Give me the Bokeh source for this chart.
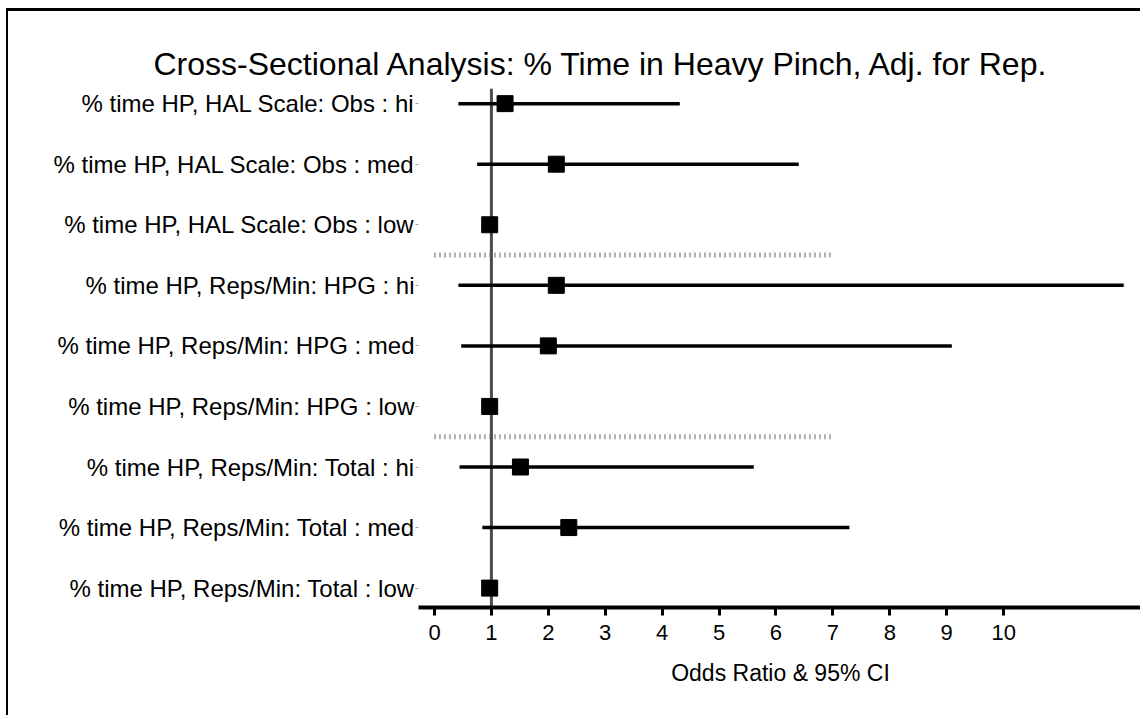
from bokeh.plotting import figure
from bokeh.models import Range1d, FixedTicker, Span, ColumnDataSource, Title
from bokeh.embed import file_html
from bokeh.resources import INLINE

# ---- data (top row first) ----
row_labels = [
    "% time HP, HAL Scale: Obs : hi",
    "% time HP, HAL Scale: Obs : med",
    "% time HP, HAL Scale: Obs : low",
    "% time HP, Reps/Min: HPG : hi",
    "% time HP, Reps/Min: HPG : med",
    "% time HP, Reps/Min: HPG : low",
    "% time HP, Reps/Min: Total : hi",
    "% time HP, Reps/Min: Total : med",
    "% time HP, Reps/Min: Total : low",
]
odds_ratio = [1.24, 2.14, 0.97, 2.14, 2.00, 0.97, 1.51, 2.36, 0.97]
ci_lower = [0.42, 0.75, float("nan"), 0.42, 0.47, float("nan"), 0.44, 0.84, float("nan")]
ci_upper = [4.31, 6.40, float("nan"), 12.11, 9.09, float("nan"), 5.61, 7.29, float("nan")]
x_ticks = [0, 1, 2, 3, 4, 5, 6, 7, 8, 9, 10]
reference_value = 1
group_size = 3
separator_x = [0, 7]

n = len(row_labels)
ypos = [n - i for i in range(n)]
sep_y = [n - k * group_size + 0.5 for k in range(1, n // group_size)]

src = ColumnDataSource(dict(y=ypos, est=odds_ratio, lo=ci_lower, hi=ci_upper))

p = figure(
    width=1134, height=707,
    output_backend="svg", toolbar_location=None,
    x_range=Range1d(-0.281, 12.44), y_range=Range1d(0.68, 9.25),
    min_border_left=410, min_border_right=0, min_border_top=77, min_border_bottom=111,
    background_fill_color="white", border_fill_color="white",
)
p.styles = {"border-left": "2px solid black", "border-top": "3px solid black",
            "margin-left": "6px", "margin-top": "8px"}
p.outline_line_color = None
p.grid.visible = False

p.title = Title(text="Cross-Sectional Analysis: % Time in Heavy Pinch, Adj. for Rep.",
                text_font="Liberation Sans", text_font_size="32px",
                text_font_style="normal", text_color="black",
                align="left", offset=-265, standoff=14)

# reference line
p.add_layout(Span(location=reference_value, dimension="height",
                  line_color="#4d4d4d", line_width=3, level="underlay"))

# separators
p.segment(x0=[separator_x[0]] * len(sep_y), x1=[separator_x[1]] * len(sep_y),
          y0=sep_y, y1=sep_y, line_color="#666666", line_width=5, line_dash="1 4")

# CIs and estimates
p.segment(x0="lo", x1="hi", y0="y", y1="y", source=src, line_color="black", line_width=3.5)
p.scatter(x="est", y="y", source=src, marker="square", size=16,
          fill_color="black", line_color="black")

# x axis
xa = p.xaxis[0]
xa.ticker = FixedTicker(ticks=x_ticks)
xa.axis_label = "Odds Ratio & 95% CI"
xa.axis_label_text_font = "Liberation Sans"
xa.axis_label_text_font_size = "23px"
xa.axis_label_text_font_style = "normal"
xa.axis_label_text_color = "black"
xa.axis_label_standoff = 17
xa.major_label_text_font = "Liberation Sans"
xa.major_label_text_font_size = "22px"
xa.major_label_text_color = "black"
xa.major_label_standoff = 9
xa.axis_line_width = 4
xa.axis_line_color = "black"
xa.major_tick_line_width = 3
xa.major_tick_line_color = "black"
xa.major_tick_out = 8
xa.major_tick_in = 0
xa.minor_tick_line_color = None

# y axis
ya = p.yaxis[0]
ya.ticker = FixedTicker(ticks=ypos)
ya.major_label_overrides = {y: lab for y, lab in zip(ypos, row_labels)}
ya.major_label_text_font = "Liberation Sans"
ya.major_label_text_font_size = "24px"
ya.major_label_text_color = "black"
ya.major_label_standoff = 1
ya.axis_line_color = None
ya.major_tick_line_color = "#999999"
ya.major_tick_out = 3
ya.major_tick_in = 0
ya.minor_tick_line_color = None

open("out.html", "w").write(file_html(p, INLINE))
